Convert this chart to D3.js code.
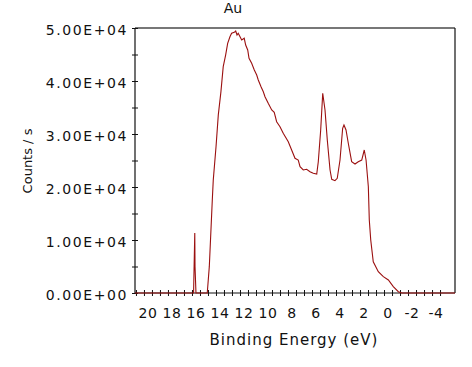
<!doctype html>
<html lang="en">
<head>
    <meta charset="utf-8">
    <title>Au</title>
    <style>
        body { margin: 0; background: #fff; }
        svg { display: block; }
        text { font-family: "DejaVu Sans", sans-serif; fill: #111; }
    </style>
</head>
<body>
    <div id="chart"></div>
    <script src="https://cdn.jsdelivr.net/npm/d3@7/dist/d3.min.js"></script>
    <script>
        // binding energy (eV) and counts/s
        var energy = [21.08, 16.2, 16.1, 16.08, 16.0, 15.92, 15.06, 14.89, 14.64, 14.56, 14.33, 14.14,
            13.92, 13.73, 13.53, 13.36, 13.17, 13.03, 12.81, 12.69, 12.58, 12.48, 12.33, 12.19, 11.98,
            11.86, 11.69, 11.58, 11.36, 11.14, 10.94, 10.81, 10.58, 10.39, 10.25, 9.98, 9.69, 9.48,
            9.28, 9.0, 8.73, 8.31, 8.03, 7.75, 7.48, 7.33, 7.06, 6.78, 6.5, 6.23, 5.94,
            5.81, 5.61, 5.44, 5.25, 5.06, 4.83, 4.69, 4.42, 4.23, 4.0, 3.78, 3.67, 3.5, 3.31,
            3.03, 2.75, 2.48, 2.19, 1.98, 1.83, 1.64, 1.56, 1.44, 1.23, 0.81, 0.39, -0.03,
            -0.44, -0.86, -1.14, -5.58];
        var counts = [0, 0, 11300, 5000, 0, 0, 0, 4970, 17550, 21300, 27600, 33600,
            38000, 42700, 44900, 47100, 48350, 49000, 49190, 49430, 48680, 49000, 48360, 47740, 48060,
            46790, 45850, 44280, 43340, 42080, 41130, 40190, 38930, 37980, 37040, 35790, 34530, 34090,
            32320, 31380, 30130, 28550, 26980, 25420, 25090, 23830, 23210, 23340, 22890, 22590, 22450,
            24770, 30760, 37680, 34530, 28870, 23210, 21450, 21190, 21640, 25090, 31080, 31700, 30760, 28250,
            24770, 24340, 24770, 25090, 26980, 25090, 20060, 13770, 10000, 5900, 4020, 3080, 2450,
            1190, 250, 0, 0];

        var xLabels = [20, 18, 16, 14, 12, 10, 8, 6, 4, 2, 0, -2, -4];
        var yLabels = [0, 10000, 20000, 30000, 40000, 50000];
        var yTickText = ["0.00E+00", "1.00E+04", "2.00E+04", "3.00E+04", "4.00E+04", "5.00E+04"];

        var width = 472, height = 367;
        var pLeft = 135, pRight = 455, pTop = 28, pBottom = 293;

        var svg = d3.select("#chart").append("svg")
            .attr("width", width)
            .attr("height", height);

        var x = d3.scaleLinear().domain([21.08, -5.58]).range([pLeft, pRight]);
        var y = d3.scaleLinear().domain([0, 50000]).range([pBottom, pTop]);

        // minor x ticks every 2/3 eV
        var xMinor = d3.range(0, 39).map(function (k) { return 21 - k * 2 / 3; });
        var yMinor = d3.range(0, 50001, 5000);

        // frame
        svg.append("line").attr("x1", pLeft).attr("x2", pRight).attr("y1", pTop).attr("y2", pTop)
            .attr("stroke", "#777").attr("stroke-width", 2);
        svg.append("line").attr("x1", pRight).attr("x2", pRight).attr("y1", pTop).attr("y2", pBottom)
            .attr("stroke", "#111").attr("stroke-width", 1.2);

        var xAxis = d3.axisBottom(x).tickValues(xMinor).tickSize(6).tickFormat("");
        svg.append("g").attr("transform", "translate(0," + (pBottom - 3) + ")").call(xAxis)
            .call(function (g) {
                g.select(".domain").remove();
                g.selectAll("line").attr("stroke", "#111");
            });
        svg.append("line").attr("x1", pLeft).attr("x2", pRight).attr("y1", pBottom).attr("y2", pBottom)
            .attr("stroke", "#111").attr("stroke-width", 1.2);

        svg.append("g").selectAll("text").data(xLabels).enter().append("text")
            .attr("x", function (d) { return x(d); })
            .attr("y", 318)
            .attr("text-anchor", "middle")
            .style("font-size", "14px")
            .style("letter-spacing", "0.5px")
            .text(function (d) { return d; });

        var yAxis = d3.axisLeft(y).tickValues(yMinor).tickSize(6).tickFormat("");
        svg.append("g").attr("transform", "translate(" + (pLeft + 3) + ",0)").call(yAxis)
            .call(function (g) {
                g.select(".domain").remove();
                g.selectAll("line").attr("stroke", "#111");
            });
        svg.append("line").attr("x1", pLeft).attr("x2", pLeft).attr("y1", pTop).attr("y2", pBottom)
            .attr("stroke", "#111").attr("stroke-width", 1.2);

        svg.append("g").selectAll("text").data(yLabels).enter().append("text")
            .attr("x", 128)
            .attr("y", function (d) { return y(d) + 7; })
            .attr("text-anchor", "end")
            .style("font-size", "14px")
            .style("letter-spacing", "1.6px")
            .text(function (d, i) { return yTickText[i]; });

        // spectrum
        var line = d3.line()
            .x(function (d) { return x(d[0]); })
            .y(function (d) { return y(d[1]); });
        svg.append("path")
            .datum(energy.map(function (e, i) { return [e, counts[i]]; }))
            .attr("d", line)
            .attr("fill", "none")
            .attr("stroke", "#9b1010")
            .attr("stroke-width", 1.1);

        // titles
        svg.append("text").attr("x", 233).attr("y", 13).attr("text-anchor", "middle")
            .style("font-size", "14px").text("Au");
        svg.append("text").attr("x", 294).attr("y", 345).attr("text-anchor", "middle")
            .style("font-size", "15px").style("letter-spacing", "1px").text("Binding Energy (eV)");
        svg.append("text").attr("transform", "translate(32,161) rotate(-90)")
            .attr("text-anchor", "middle")
            .style("font-size", "13px").text("Counts / s");
    </script>
</body>
</html>
